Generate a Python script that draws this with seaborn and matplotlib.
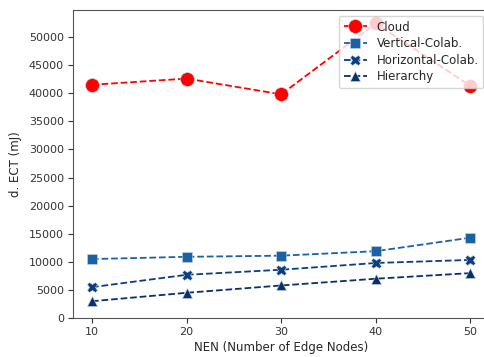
import numpy as np
import pandas as pd
import matplotlib
matplotlib.use("Agg")
import matplotlib.pyplot as plt
import seaborn as sns

nodes = [10, 20, 30, 40, 50]
cloud = [41500, 42600, 39800, 52400, 41300]
vertical = [10500, 10900, 11100, 11900, 14300]
horizontal = [5500, 7700, 8600, 9800, 10350]
hierarchy = [3000, 4500, 5800, 7000, 8000]

names = ["Cloud", "Vertical-Colab.", "Horizontal-Colab.", "Hierarchy"]
series = [cloud, vertical, horizontal, hierarchy]
colors = ["#ff0000", "#1b62a5", "#0b3d7f", "#08306b"]
markers = ["o", "s", "X", "^"]
sizes = [10, 7, 7.5, 7]

sns.set_style("ticks")
fig = plt.figure(figsize=(4.84, 3.57), dpi=100)
ax = fig.add_axes([0.151, 0.109, 0.86, 0.863])

for name, vals, c, m, s in zip(names, series, colors, markers, sizes):
    sns.lineplot(x=nodes, y=vals, ax=ax, color=c, marker=m, markersize=s,
                 linestyle="--", label=name, markeredgecolor="#c8d6e8",
                 markeredgewidth=0.4, linewidth=1.3)

ax.set_xlim(8, 52)
ax.set_ylim(0, 54800)
ax.set_xticks(nodes)
ax.set_yticks(range(0, 50001, 5000))
ax.tick_params(labelsize=8, colors="#333333", length=3.5, pad=3)
for sp in ax.spines.values():
    sp.set_color("#555555")
ax.set_xlabel("NEN (Number of Edge Nodes)", fontsize=8.5, labelpad=3)
ax.set_ylabel("d. ECT (mJ)", fontsize=8.5, labelpad=5)
ax.legend(loc="upper right", fontsize=8.5, framealpha=0.8, borderpad=0.4,
          labelspacing=0.3, handlelength=2.0)

fig.savefig("out.png", dpi=100)
